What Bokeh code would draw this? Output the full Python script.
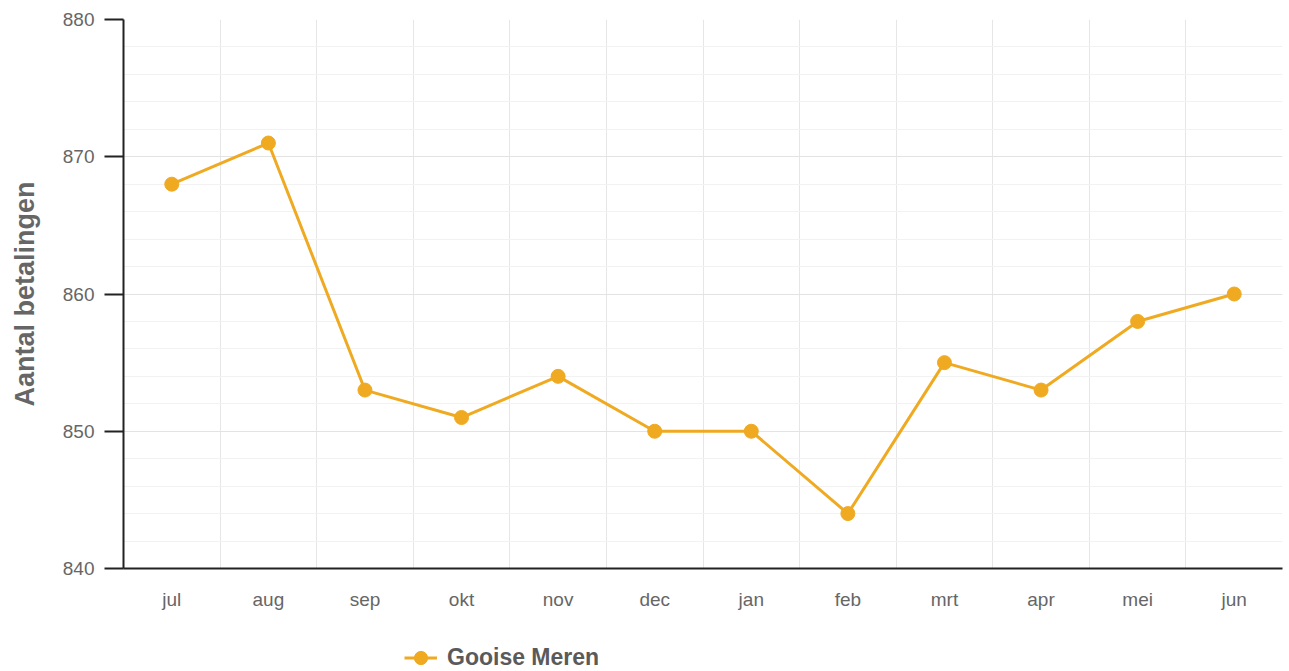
from bokeh.plotting import figure
from bokeh.layouts import column
from bokeh.models import (Range1d, FixedTicker, SingleIntervalTicker, Legend, LegendItem,
                          ColumnDataSource)
from bokeh.embed import file_html
from bokeh.resources import INLINE

months = ["jul", "aug", "sep", "okt", "nov", "dec", "jan", "feb", "mrt", "apr", "mei", "jun"]
values = [868, 871, 853, 851, 854, 850, 850, 844, 855, 853, 858, 860]
series_name = "Gooise Meren"
y_title = "Aantal betalingen"
y_min, y_max, y_step = 840, 880, 10

LINE_COLOR = "#efaa22"
TEXT_COLOR = "#666666"
FONT = "Liberation Sans"

xs = [i + 0.5 for i in range(len(months))]
src = ColumnDataSource(dict(x=xs, y=values, m=months))

main = figure(width=1285, height=615,
              output_backend="svg", toolbar_location=None,
              x_range=Range1d(0, len(months)), y_range=Range1d(y_min, y_max),
              min_border_left=123, min_border_right=3, min_border_top=19, min_border_bottom=47)
main.outline_line_color = None
main.background_fill_color = "white"
main.border_fill_color = "white"

# x axis
main.xaxis.ticker = FixedTicker(ticks=xs)
main.xaxis.major_label_overrides = {x: m for x, m in zip(xs, months)}
main.xaxis.major_tick_line_color = None
main.xaxis.minor_tick_line_color = None
main.xaxis.major_tick_out = 0
main.xaxis.major_label_standoff = 20
main.xaxis.axis_line_color = "#222222"
main.xaxis.axis_line_width = 2
main.xaxis.major_label_text_font = FONT
main.xaxis.major_label_text_font_size = "19px"
main.xaxis.major_label_text_color = TEXT_COLOR

# y axis
yt = SingleIntervalTicker(interval=y_step, num_minor_ticks=5)
main.yaxis.ticker = yt
main.yaxis.minor_tick_line_color = None
main.yaxis.major_tick_out = 19
main.yaxis.major_tick_in = 0
main.yaxis.major_tick_line_color = "#222222"
main.yaxis.major_tick_line_width = 2
main.yaxis.axis_line_color = "#222222"
main.yaxis.axis_line_width = 2
main.yaxis.major_label_standoff = 10
main.yaxis.major_label_text_font = FONT
main.yaxis.major_label_text_font_size = "19px"
main.yaxis.major_label_text_color = TEXT_COLOR
main.yaxis.axis_label = y_title
main.yaxis.axis_label_text_font = FONT
main.yaxis.axis_label_text_font_style = "bold"
main.yaxis.axis_label_text_font_size = "27px"
main.yaxis.axis_label_text_color = TEXT_COLOR
main.yaxis.axis_label_standoff = 20

# grids
main.xgrid.ticker = FixedTicker(ticks=list(range(1, len(months) + 1)))
main.xgrid.grid_line_color = "#e6e6e6"
main.ygrid.ticker = yt
main.ygrid.grid_line_color = "#e3e3e3"
main.ygrid.minor_grid_line_color = "#f2f2f2"

main.line("x", "y", source=src, line_color=LINE_COLOR, line_width=3)
main.scatter("x", "y", source=src, size=14, fill_color=LINE_COLOR, line_color=LINE_COLOR)

# legend strip below the chart (series drawn out of its visible range, only the swatch shows)
leg = figure(width=1285, height=56, output_backend="svg", toolbar_location=None,
             x_range=Range1d(-2, -1), y_range=Range1d(-2, -1),
             min_border=0, min_border_left=0, min_border_right=0,
             min_border_top=0, min_border_bottom=0)
leg.axis.visible = False
leg.grid.visible = False
leg.outline_line_color = None
leg_line = leg.line("x", "y", source=src, line_color=LINE_COLOR, line_width=3)
leg_dot = leg.scatter("x", "y", source=src, size=14, fill_color=LINE_COLOR, line_color=LINE_COLOR)

legend = Legend(items=[LegendItem(label=series_name, renderers=[leg_line, leg_dot])],
                orientation="horizontal", location=(281, -3), margin=0, padding=0,
                border_line_color=None, background_fill_alpha=0,
                glyph_width=33, glyph_height=33, label_standoff=10,
                label_text_font=FONT, label_text_font_style="bold",
                label_text_font_size="23px", label_text_color="#5a5a5a")
leg.add_layout(legend, "center")

p = column(main, leg, spacing=0)

open("out.html", "w").write(file_html(p, INLINE))
